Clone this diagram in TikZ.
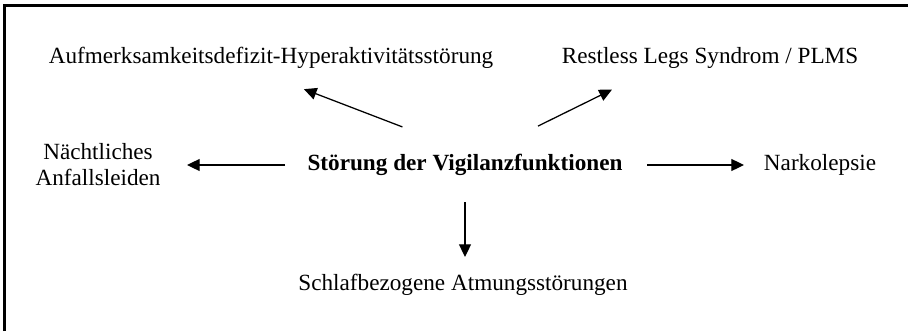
\documentclass[tikz,border=0pt]{standalone}
\usepackage{fontspec}
\setmainfont{Liberation Serif}
\usetikzlibrary{arrows.meta}

\begin{document}
\begin{tikzpicture}[>={Triangle[length=9pt,width=8.5pt]},
    lbl/.style={inner sep=0pt, align=center, font=\fontsize{16.5}{18.5}\selectfont}]
    \useasboundingbox (0,0) rectangle (22.7,8.275);
    % Rahmen oben und links
    \draw[line width=1.6pt] (0.1125,0) -- (0.1125,8.1375) -- (22.7,8.1375);

    % Knoten
    \node[lbl] (stoer) at (11.625, 4.15) {\bfseries Störung der Vigilanzfunktionen};
    \node[lbl] (adhs) at (6.775, 6.825) {Aufmerksamkeitsdefizit-Hyperaktivitätsstörung};
    \node[lbl] (rls) at (17.75, 6.825) {Restless Legs Syndrom / PLMS};
    \node[lbl] (naecht) at (2.45, 4.15) {Nächtliches\\Anfallsleiden};
    \node[lbl] (narko) at (20.5, 4.15) {Narkolepsie};
    \node[lbl] (schlaf) at (11.575, 1.15) {Schlafbezogene Atmungsstörungen};

    % Pfeile
    \draw[->, line width=0.9pt, shorten <=1.89cm, shorten >=1.41cm] (stoer.54) -- (adhs.209);
    \draw[->, line width=0.9pt, shorten <=1.58cm, shorten >=1.18cm] (stoer.34) -- (rls.191);
    \draw[->, line width=0.9pt, shorten <=4.5cm, shorten >=2.225cm] (stoer.center) -- (naecht.center);
    \draw[->, line width=0.9pt, shorten <=4.55cm, shorten >=1.9cm] (stoer.center) -- (narko.center);
    \draw[->, line width=0.9pt, shorten <=0.925cm, shorten >=0.7cm] (stoer.center) -- (stoer.center |- schlaf.center);
\end{tikzpicture}
\end{document}
